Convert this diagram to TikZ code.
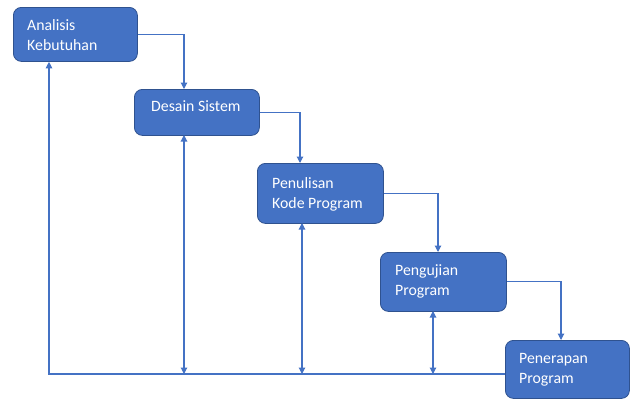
\documentclass[tikz,border=0pt]{standalone}
\usepackage{fontspec}
\setmainfont{Carlito}
\usetikzlibrary{arrows.meta,calc}
\definecolor{boxfill}{HTML}{4472C4}
\definecolor{boxline}{HTML}{2F528F}
\definecolor{conncol}{HTML}{4472C4}
\tikzset{
  stagebox/.style={draw=boxline, line width=0.8pt, fill=boxfill, rounded corners=8pt, anchor=north west, inner sep=0pt},
  lbl/.style={text=white, font=\fontsize{15.8}{20}\selectfont, anchor=base west, inner sep=0pt, align=left},
  conn/.style={draw=conncol, line width=1.1pt},
  tip/.style={-{Triangle[width=6.5pt,length=6.5pt]}},
  dtip/.style={{Triangle[width=6.5pt,length=6.5pt]}-{Triangle[width=6.5pt,length=6.5pt]}}
}
\begin{document}
\begin{tikzpicture}[x=1pt,y=-1pt]
\useasboundingbox (0,0) rectangle (631,400);
\node[stagebox, minimum width=124pt, minimum height=54pt] (b1) at (13,7) {};
\node[stagebox, minimum width=125pt, minimum height=46pt] (b2) at (134,89) {};
\node[stagebox, minimum width=126pt, minimum height=60pt] (b3) at (257,163) {};
\node[stagebox, minimum width=126pt, minimum height=59pt] (b4) at (380,252) {};
\node[stagebox, minimum width=124pt, minimum height=58pt] (b5) at (505,340) {};

% multi-line labels: anchor base = baseline of the last line
\node[lbl] (t1) at (27,50) {Analisis\\Kebutuhan};
\node[lbl] (t2) at (151,111) {Desain Sistem};
\node[lbl] (t3) at (272,208) {Penulisan\\Kode Program};
\node[lbl] (t4) at (395,295) {Pengujian\\Program};
\node[lbl] (t5) at (519,383) {Penerapan\\Program};

\coordinate (base) at (49,374);
\coordinate (d2) at (184,89);
\coordinate (d3) at (300,163);
\coordinate (d4) at (438,252);
\coordinate (d5) at (561,340);
\coordinate (u2) at (184,135);
\coordinate (u3) at (302,223);
\coordinate (u4) at (433,311);

\draw[conn,tip] (b1.east) -| (d2);
\draw[conn,tip] (b2.east) -| (d3);
\draw[conn,tip] (b3.east) -| (d4);
\draw[conn,tip] (b4.east) -| (d5);

\draw[conn,tip] (b5.west |- base) -- (base) -- (base |- b1.south);
\draw[conn,dtip] (u2) -- (u2 |- base);
\draw[conn,dtip] (u3) -- (u3 |- base);
\draw[conn,dtip] (u4) -- (u4 |- base);
\end{tikzpicture}
\end{document}
